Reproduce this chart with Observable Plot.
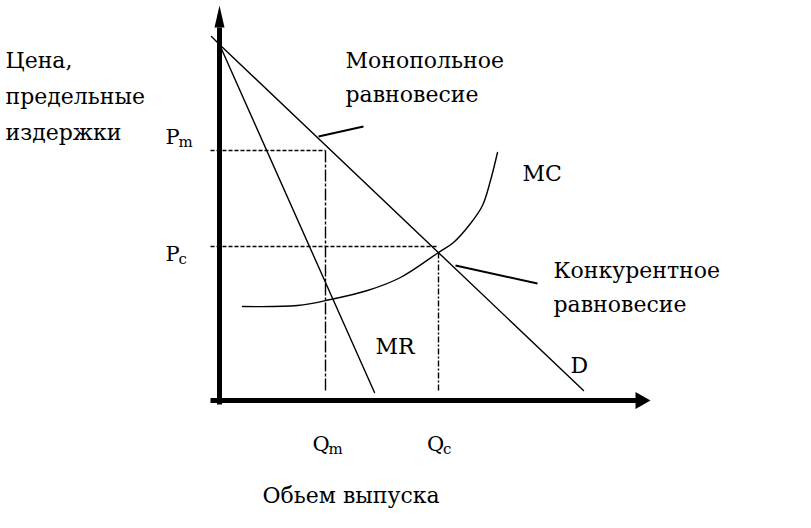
<!DOCTYPE html>
<html>
<head>
<meta charset="utf-8">
<script src="https://cdn.jsdelivr.net/npm/d3@7"></script>
<script src="https://cdn.jsdelivr.net/npm/@observablehq/plot@0.6"></script>
<style>
  html, body { margin: 0; padding: 0; background: #ffffff; }
</style>
</head>
<body>
<div id="chart"></div>
<script>
// ---- Data (quantity q, price p in diagram units) ----
const demand = [
  {q: -2, p: 91},
  {q: 0, p: 89},
  {q: 91, p: 2.5}
];
const marginalRevenue = [
  {q: 0, p: 89},
  {q: 38.75, p: 2}
];
const marginalCost = [
  {q: 5.75, p: 23.5},
  {q: 19.5, p: 23.75},
  {q: 27.75, p: 25.25},
  {q: 37, p: 27.5},
  {q: 45.25, p: 30.75},
  {q: 54.75, p: 37},
  {q: 58.5, p: 39.5},
  {q: 62.75, p: 44.25},
  {q: 65.75, p: 48.75},
  {q: 67.75, p: 55},
  {q: 69.5, p: 62}
];
// guide (dashed) lines: Pm, Qm, Pc, Qc
const guides = [
  {q1: -2.25, p1: 62.5, q2: 26.5, p2: 62.5, dash: "4,2"},
  {q1: 26.5, p1: 62.5, q2: 26.5, p2: 2, dash: "12,2,3,2"},
  {q1: -2.25, p1: 38.5, q2: 54.75, p2: 38.5, dash: "4,2"},
  {q1: 54.75, p1: 37, q2: 54.75, p2: 2, dash: "6,2,2,2"}
];
// leader lines from the equilibrium labels
const pointers = [
  {q1: 24.75, p1: 66, q2: 36, p2: 68.5},
  {q1: 59, p1: 33.75, q2: 79.5, p2: 29.25}
];
// axis extents
const axisX = [{q1: -2.25, q2: 104.5, tip: 107.75}];
const axisY = [{p1: -1, p2: 93.25, tip: 98.75}];

// texts
const bigLabels = [
  {text: "Цена,\nпредельные\nиздержки", q: -53.5, p: 65.25, lh: 36},
  {text: "Монопольное\nравновесие", q: 31.5, p: 74.75, lh: 34},
  {text: "Конкурентное\nравновесие", q: 83.5, p: 22.25, lh: 34},
  {text: "Обьем выпуска", q: 10.75, p: -25.5, lh: 34},
  {text: "MC", q: 75.75, p: 55, lh: 34},
  {text: "MR", q: 39, p: 11.75, lh: 34},
  {text: "D", q: 87.75, p: 7, lh: 34}
];
const symbolLabels = [
  {main: "P", sub: "m", q: -13.5, p: 64.25},
  {main: "P", sub: "c", q: -13.5, p: 35},
  {main: "Q", sub: "m", q: 23.25, p: -12.5},
  {main: "Q", sub: "c", q: 51.9, p: -12.5}
];

// ---- arrowhead symbols ----
const upArrow = {draw(ctx) { ctx.moveTo(0, 0); ctx.lineTo(5, 22); ctx.lineTo(-5, 22); ctx.closePath(); }};
const rightArrow = {draw(ctx) { ctx.moveTo(0, 0); ctx.lineTo(8.5, 15); ctx.lineTo(-8.5, 15); ctx.closePath(); }};

const font = "DejaVu Serif";

const chart = Plot.plot({
  width: 811,
  height: 528,
  style: {fontFamily: font, background: "white"},
  x: {domain: [0, 100], range: [219, 619], axis: null},
  y: {domain: [0, 100], range: [400, 0], axis: null},
  marks: [
    // axes
    Plot.link(axisY, {x1: () => 0, x2: () => 0, y1: "p1", y2: "p2", stroke: "black", strokeWidth: 5}),
    Plot.link(axisX, {x1: "q1", x2: "q2", y1: () => 0, y2: () => 0, stroke: "black", strokeWidth: 5}),
    Plot.dot(axisY, {x: () => 0, y: "tip", symbol: upArrow, fill: "black", stroke: "none"}),
    Plot.dot(axisX, {x: "tip", y: () => 0, symbol: rightArrow, rotate: 90, fill: "black", stroke: "none"}),
    // guides
    ...guides.map(g => Plot.link([g], {x1: "q1", y1: "p1", x2: "q2", y2: "p2", stroke: "black", strokeWidth: 1.4, strokeDasharray: g.dash})),
    // curves
    Plot.line(demand, {x: "q", y: "p", stroke: "black", strokeWidth: 1.4}),
    Plot.line(marginalRevenue, {x: "q", y: "p", stroke: "black", strokeWidth: 1.4}),
    Plot.line(marginalCost, {x: "q", y: "p", curve: "catmull-rom", stroke: "black", strokeWidth: 1.4}),
    Plot.link(pointers, {x1: "q1", y1: "p1", x2: "q2", y2: "p2", stroke: "black", strokeWidth: 2}),
    // texts
    ...bigLabels.map(d => Plot.text([d], {x: "q", y: "p", text: "text", textAnchor: "start", lineAnchor: "bottom",
      fontSize: 22, lineHeight: d.lh / 22, fontFamily: font, fill: "black"})),
    Plot.text(symbolLabels, {x: "q", y: "p", text: "main", textAnchor: "start", lineAnchor: "bottom",
      fontSize: 21, fontFamily: font, fill: "black"}),
    ...symbolLabels.map(d => Plot.text([d], {x: "q", y: "p", text: "sub", textAnchor: "start", lineAnchor: "bottom",
      dx: d.main === "Q" ? 16 : 13, dy: 3, fontSize: 15, fontFamily: font, fill: "black"}))
  ]
});
document.getElementById("chart").appendChild(chart);
</script>
</body>
</html>
